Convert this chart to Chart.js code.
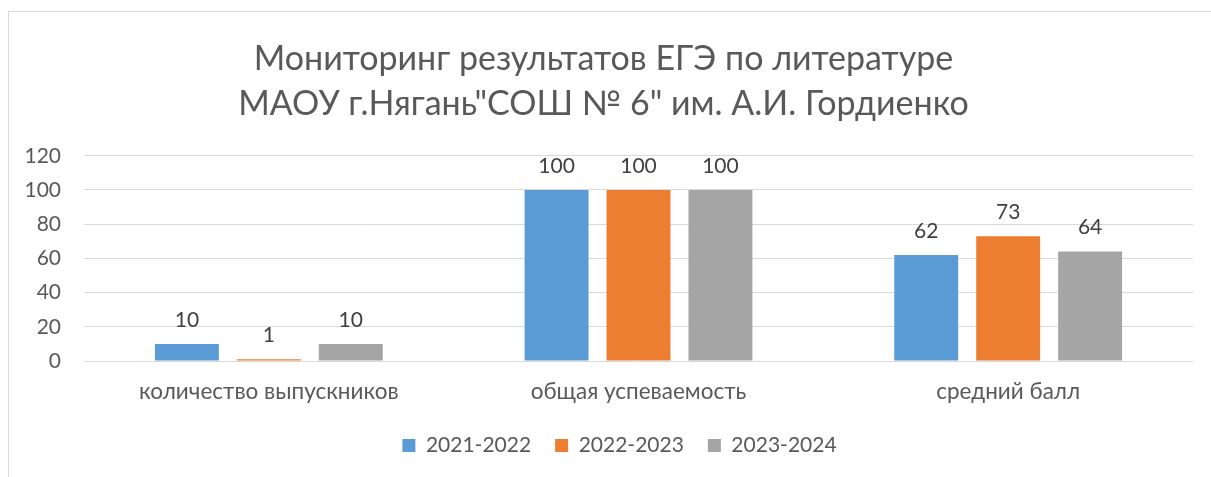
<!DOCTYPE html>
<html lang="ru">
<head>
<meta charset="utf-8">
<script src="https://cdn.jsdelivr.net/npm/chart.js@4/dist/chart.umd.min.js"></script>
<style>
    html, body { margin: 0; padding: 0; background: #fff; overflow: hidden; }
    #frame {
        position: absolute; left: 8px; top: 11px;
        width: 1240px; height: 500px;
        border-top: 1px solid #d9d9d9; border-left: 1px solid #d9d9d9;
    }
    #box { position: absolute; left: 0; top: 0; width: 1202px; height: 465px; }
</style>
</head>
<body>
<div id="frame"><div id="box"><canvas id="chart"></canvas></div></div>
<script>
const titleLines = ['Мониторинг результатов ЕГЭ по литературе', 'МАОУ г.Нягань"СОШ № 6" им. А.И. Гордиенко'];
const categories = ['количество выпускников', 'общая успеваемость', 'средний балл'];
const seriesNames = ['2021-2022', '2022-2023', '2023-2024'];
const values2021 = [10, 100, 62];
const values2022 = [1, 100, 73];
const values2023 = [10, 100, 64];
const seriesColors = ['#5b9bd5', '#ed7d31', '#a5a5a5'];

const FONT = 'Lato';
const TEXT = '#595959';

// подписи значений над столбцами
const valueLabels = {
    id: 'valueLabels',
    afterDatasetsDraw(chart) {
        const ctx = chart.ctx;
        ctx.save();
        ctx.font = '21px ' + FONT;
        ctx.fillStyle = '#404040';
        ctx.textAlign = 'center';
        ctx.textBaseline = 'middle';
        chart.data.datasets.forEach((ds, i) => {
            chart.getDatasetMeta(i).data.forEach((bar, j) => {
                ctx.fillText(String(ds.data[j]), bar.x, bar.y - 24);
            });
        });
        ctx.restore();
    }
};

// небольшой сдвиг заголовка и легенды по горизонтали
const nudge = {
    id: 'nudge',
    afterLayout(chart) {
        if (chart.titleBlock) { chart.titleBlock.left -= 6; chart.titleBlock.right -= 6; }
        if (chart.legend) { chart.legend.left += 10; chart.legend.right += 10; }
    }
};

const allValues = [values2021, values2022, values2023];

new Chart(document.getElementById('chart'), {
    type: 'bar',
    data: {
        labels: categories,
        datasets: seriesNames.map((name, i) => ({
            label: name,
            data: allValues[i],
            backgroundColor: seriesColors[i],
            categoryPercentage: 0.665,
            barPercentage: 0.78
        }))
    },
    options: {
        responsive: true,
        maintainAspectRatio: false,
        animation: false,
        layout: { padding: { left: 17, right: 18, top: 0, bottom: 11 } },
        plugins: {
            title: {
                display: true,
                text: titleLines,
                color: TEXT,
                font: { family: FONT, size: 34, weight: 'normal', lineHeight: 1.32 },
                padding: { top: 25, bottom: 29 }
            },
            legend: {
                position: 'bottom',
                labels: {
                    color: TEXT,
                    font: { family: FONT, size: 21 },
                    boxWidth: 13,
                    boxHeight: 13,
                    padding: 24
                }
            },
            tooltip: { enabled: false }
        },
        scales: {
            x: {
                grid: { display: false },
                border: { display: false },
                ticks: { color: TEXT, font: { family: FONT, size: 22.5 }, padding: 9 },
                afterFit(scale) { scale.height -= 3; }
            },
            y: {
                min: 0,
                max: 120,
                ticks: { stepSize: 20, color: TEXT, font: { family: FONT, size: 21 }, padding: 23 },
                grid: { color: '#d9d9d9', lineWidth: 1, drawTicks: false },
                border: { display: false },
                afterFit(scale) { scale.width = 58; }
            }
        }
    },
    plugins: [valueLabels, nudge]
});
</script>
</body>
</html>
